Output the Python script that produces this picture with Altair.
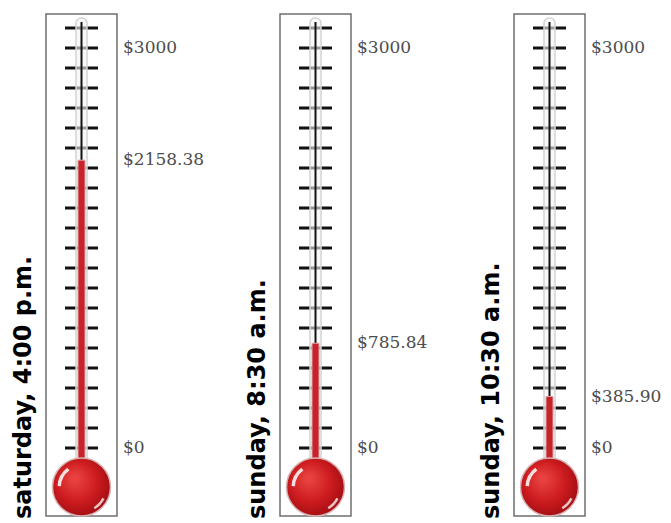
import altair as alt
import pandas as pd

titles = ["saturday, 4:00 p.m.", "sunday, 8:30 a.m.", "sunday, 10:30 a.m."]
raised = [2158.38, 785.84, 385.90]
goal = 3000
tick_values = [0, 150, 300, 450, 600, 750, 900, 1050, 1200, 1350, 1500,
               1650, 1800, 1950, 2100, 2250, 2400, 2550, 2700, 2850, 3000, 3150]
widths = [190, 190, 148]

H = 502
yscale = alt.Scale(domain=[-510, 3255], nice=False, zero=False)

bulb_fill = alt.Gradient(
    gradient="radial",
    stops=[alt.GradientStop(color="#e8413f", offset=0),
           alt.GradientStop(color="#cc1b1f", offset=0.55),
           alt.GradientStop(color="#9e0d12", offset=1)],
    x1=0.38, y1=0.35, r1=0.05, x2=0.45, y2=0.45, r2=0.6,
)

BY = 473  # bulb centre


def panel(title, value, W):
    base = alt.Chart(pd.DataFrame({"v": [value]}))
    frame = base.mark_rect(fillOpacity=0, stroke="#6f6f6f", strokeWidth=1.5).encode(
        x=alt.value(0), x2=alt.value(71), y=alt.value(0), y2=alt.value(H))
    ticks = alt.Chart(pd.DataFrame({"v": tick_values})).mark_rule(
        color="#111", strokeWidth=3).encode(
        y=alt.Y("v:Q", scale=yscale, axis=None), x=alt.value(19), x2=alt.value(52))
    tube = base.mark_rect(fill="#f4f4f4", fillOpacity=0.6, stroke="#d4d4d4",
                          strokeWidth=1.5, cornerRadius=5).encode(
        x=alt.value(30), x2=alt.value(41), y=alt.value(4), y2=alt.value(BY - 12))
    line = base.mark_rule(color="#111", strokeWidth=2).encode(
        x=alt.value(35.5), y=alt.value(8), y2=alt.value(BY - 25))
    fill = base.mark_rect(color="#c8232a", stroke="#e3a3a3", strokeWidth=1).encode(
        x=alt.value(32), x2=alt.value(39),
        y=alt.Y("v:Q", scale=yscale, axis=None), y2=alt.value(BY - 5))
    bulb = base.mark_point(filled=True, shape="circle", size=3364, fill=bulb_fill,
                           fillOpacity=1, stroke="#d7b2b2", strokeWidth=1.5,
                           strokeOpacity=1).encode(
        x=alt.value(35.5), y=alt.value(BY))
    glint1 = base.mark_arc(radius=24, radius2=20.5, theta=4.75, theta2=5.65,
                           color="white", opacity=0.85).encode(
        x=alt.value(35.5), y=alt.value(BY))
    glint2 = base.mark_arc(radius=26, radius2=23.5, theta=2.05, theta2=2.6,
                           color="white", opacity=0.75).encode(
        x=alt.value(35.5), y=alt.value(BY))
    labels_df = pd.DataFrame({
        "v": [goal, value, 0],
        "t": ["$" + str(goal), "$" + format(value, ".2f"), "$0"],
    })
    labels = alt.Chart(labels_df).mark_text(
        align="left", baseline="middle", font="DejaVu Serif", fontSize=17,
        color="#4d4d4d").encode(
        x=alt.value(77), y=alt.Y("v:Q", scale=yscale, axis=None), text="t:N")
    return alt.layer(frame, ticks, tube, line, fill, bulb, glint1, glint2, labels).properties(
        width=W, height=H,
        title=alt.TitleParams(title, orient="left", anchor="start", fontSize=24,
                              fontWeight="bold", font="DejaVu Sans", color="#000",
                              offset=9),
    )


chart = alt.hconcat(*[panel(t, v, w) for t, v, w in zip(titles, raised, widths)],
                    spacing=10).properties(
    padding={"left": 4, "top": 5, "right": 0, "bottom": 0}
).configure_view(strokeWidth=0)

chart.save("out.html", embed_options={"renderer": "svg", "actions": False})
